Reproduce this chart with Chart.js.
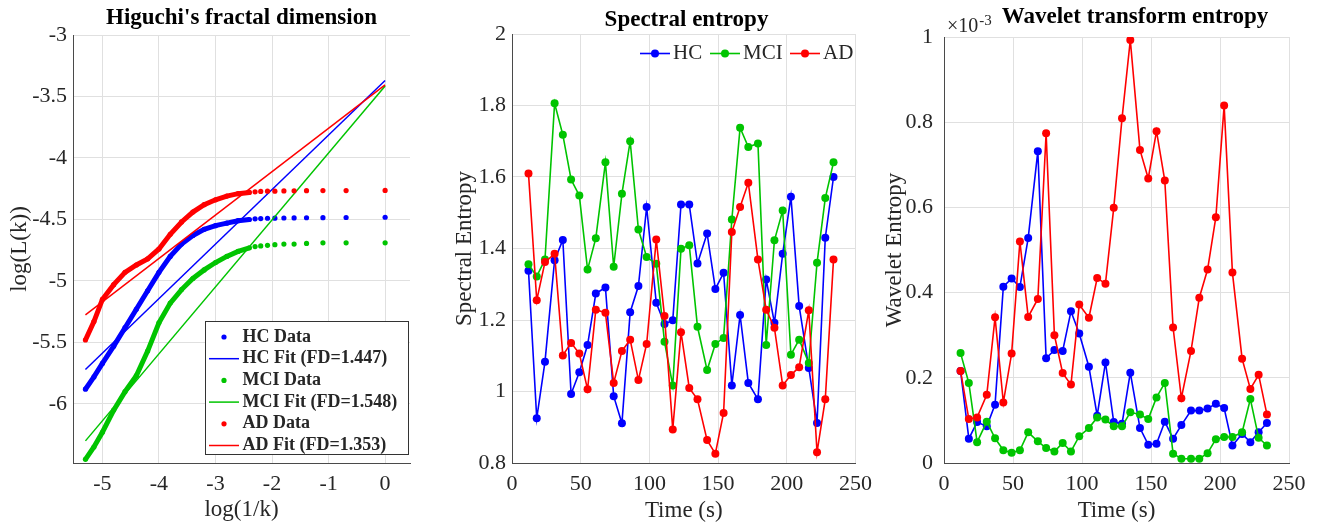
<!DOCTYPE html>
<html>
<head>
<meta charset="utf-8">
<script src="https://cdn.jsdelivr.net/npm/chart.js@4.4.0/dist/chart.umd.min.js"></script>
<style>
  body { margin: 0; background: #fff; width: 1329px; height: 525px; overflow: hidden; position: relative; }
  canvas { position: absolute; top: 0; }
</style>
</head>
<body>
<canvas id="hfd" width="440" height="525" style="left:0"></canvas>
<canvas id="spec" width="440" height="525" style="left:440px"></canvas>
<canvas id="wave" width="449" height="525" style="left:880px"></canvas>
<script>
// ---- Higuchi's fractal dimension: log(1/k) vs log(L(k)) ----
const logInvK = [-5.30, -5.15, -5.00, -4.80, -4.60, -4.40, -4.20, -4.00, -3.80, -3.60, -3.40, -3.20, -3.00, -2.80, -2.60, -2.40,
                 -2.30, -2.20, -2.08, -1.95, -1.79, -1.61, -1.39, -1.10, -0.69, 0];
const hcLogL  = [-5.88, -5.78, -5.67, -5.53, -5.38, -5.23, -5.08, -4.93, -4.80, -4.70, -4.63, -4.58, -4.55, -4.53, -4.51, -4.50,
                 -4.495, -4.493, -4.49, -4.489, -4.488, -4.487, -4.486, -4.485, -4.484, -4.482];
const mciLogL = [-6.45, -6.35, -6.23, -6.05, -5.90, -5.77, -5.57, -5.34, -5.18, -5.07, -4.98, -4.91, -4.85, -4.80, -4.76, -4.73,
                 -4.72, -4.715, -4.71, -4.705, -4.70, -4.70, -4.695, -4.69, -4.69, -4.69];
const adLogL  = [-5.48, -5.33, -5.15, -5.03, -4.93, -4.87, -4.82, -4.74, -4.62, -4.52, -4.44, -4.38, -4.34, -4.31, -4.29, -4.28,
                 -4.275, -4.272, -4.27, -4.27, -4.268, -4.267, -4.266, -4.265, -4.265, -4.264];
const fitX   = [-5.30, 0];
const hcFit  = [-5.72, -3.37];
const mciFit = [-6.30, -3.415];
const adFit  = [-5.275, -3.405];
const hfdXTicks = [-5, -4, -3, -2, -1, 0];
const hfdYTicks = [-6, -5.5, -5, -4.5, -4, -3.5, -3];

// ---- time axis shared by the entropy panels ----
const timeS = [12, 18, 24, 31, 37, 43, 49, 55, 61, 68, 74, 80, 86, 92, 98, 105, 111, 117, 123, 129, 135, 142, 148, 154,
               160, 166, 172, 179, 185, 191, 197, 203, 209, 216, 222, 228, 234];
const timeTicks = [0, 50, 100, 150, 200, 250];

// ---- Spectral entropy ----
const hcSE  = [1.338, 0.925, 1.083, 1.367, 1.424, 0.993, 1.054, 1.130, 1.274, 1.291, 0.987, 0.911, 1.222, 1.295, 1.516, 1.248,
               1.189, 1.199, 1.523, 1.523, 1.358, 1.442, 1.287, 1.332, 1.017, 1.214, 1.024, 0.978, 1.313, 1.192, 1.385, 1.545,
               1.239, 1.066, 0.912, 1.430, 1.600];
const mciSE = [1.356, 1.322, 1.369, 1.806, 1.718, 1.593, 1.548, 1.341, 1.429, 1.641, 1.349, 1.553, 1.700, 1.453, 1.376, 1.357,
               1.139, 1.017, 1.399, 1.409, 1.181, 1.060, 1.133, 1.150, 1.481, 1.738, 1.684, 1.694, 1.130, 1.423, 1.506, 1.103,
               1.145, 1.080, 1.360, 1.541, 1.641];
const adSE  = [1.610, 1.255, 1.362, 1.385, 1.101, 1.136, 1.106, 1.006, 1.229, 1.220, 1.024, 1.113, 1.145, 1.032, 1.133, 1.425,
               1.211, 0.894, 1.166, 1.010, 0.978, 0.864, 0.826, 0.940, 1.446, 1.516, 1.584, 1.369, 1.229, 1.178, 1.017, 1.046,
               1.068, 1.227, 0.830, 0.978, 1.369];
const seTicks = [0.8, 1, 1.2, 1.4, 1.6, 1.8, 2];

// ---- Wavelet entropy (values in units of 1e-3) ----
const hcWE  = [0.216, 0.057, 0.096, 0.086, 0.137, 0.414, 0.433, 0.413, 0.528, 0.732, 0.246, 0.265, 0.263, 0.356, 0.304, 0.226,
               0.111, 0.236, 0.096, 0.092, 0.212, 0.082, 0.043, 0.045, 0.097, 0.057, 0.089, 0.123, 0.123, 0.128, 0.139, 0.129,
               0.041, 0.068, 0.049, 0.072, 0.094];
const mciWE = [0.258, 0.188, 0.049, 0.097, 0.058, 0.030, 0.024, 0.030, 0.072, 0.051, 0.035, 0.027, 0.047, 0.027, 0.063, 0.082,
               0.107, 0.102, 0.086, 0.086, 0.119, 0.114, 0.103, 0.154, 0.188, 0.022, 0.010, 0.010, 0.010, 0.023, 0.056, 0.061,
               0.061, 0.072, 0.150, 0.059, 0.041];
const adWE  = [0.216, 0.103, 0.107, 0.160, 0.342, 0.142, 0.257, 0.520, 0.343, 0.385, 0.774, 0.300, 0.211, 0.184, 0.372, 0.341,
               0.434, 0.421, 0.599, 0.809, 0.993, 0.735, 0.668, 0.779, 0.663, 0.318, 0.152, 0.263, 0.388, 0.454, 0.577, 0.839,
               0.447, 0.245, 0.174, 0.207, 0.114];
const weTicks = [0, 0.2, 0.4, 0.6, 0.8, 1];

const SERIF = '"Liberation Serif", "Times New Roman", serif';
const TXT = '#262626';
const GRID = '#e0e0e0';
const AXIS = '#4a4a4a';
const BLUE = '#0000ff', GREEN = '#00c400', RED = '#ff0000';

function axis(o) {
  return {
    type: 'linear', min: o.min, max: o.max,
    afterBuildTicks: s => { s.ticks = o.ticks.map(v => ({ value: v })); },
    afterFit: s => { if (o.width) s.width = o.width; if (o.height) s.height = o.height; },
    grid: { color: GRID, lineWidth: 1, drawTicks: false },
    border: { color: AXIS, width: 1 },
    ticks: { color: TXT, font: { family: SERIF, size: 22 }, padding: o.pad, autoSkip: false, maxRotation: 0,
             callback: v => String(+Number(v).toFixed(2)) },
    title: { display: true, text: o.title, color: TXT, font: { family: SERIF, size: 23 }, padding: o.titlePad }
  };
}

function titlePlugin(text, x, y) {
  return {
    id: 'panelTitle',
    afterDraw(c) {
      const g = c.ctx;
      g.save();
      g.font = 'bold 23px ' + SERIF;
      g.fillStyle = '#000';
      g.textAlign = 'center';
      g.textBaseline = 'middle';
      g.fillText(text, x, y);
      g.restore();
    }
  };
}

const baseOpts = (pad) => ({
  responsive: false, animation: false, devicePixelRatio: 1,
  layout: { padding: pad },
  plugins: { legend: { display: false }, tooltip: { enabled: false } },
  events: []
});

// ---------- panel 1 ----------
const hfdData = (label, ys, color, order) => ({
  label, order, showLine: true,
  data: logInvK.map((x, i) => ({ x, y: ys[i] })),
  borderColor: color, backgroundColor: color, borderWidth: 5,
  pointRadius: 2.6, pointBorderWidth: 0, pointStyle: 'circle',
  segment: { borderColor: ctx => ctx.p1.parsed.x > -2.35 ? 'rgba(0,0,0,0)' : color }
});
const hfdFit = (label, ys, color, order) => ({
  label, order, showLine: true,
  data: fitX.map((x, i) => ({ x, y: ys[i] })),
  borderColor: color, backgroundColor: color, borderWidth: 1.5, pointRadius: 0, pointStyle: 'line'
});

const hfdLegend = {
  id: 'hfdLegend',
  afterDraw(c) {
    const g = c.ctx;
    g.save();
    g.fillStyle = '#fff';
    g.fillRect(205.5, 321.5, 203, 133);
    g.strokeStyle = '#333';
    g.lineWidth = 1;
    g.strokeRect(205.5, 321.5, 203, 133);
    g.font = 'bold 18px ' + SERIF;
    g.textBaseline = 'middle';
    c.data.datasets.forEach((ds, i) => {
      const y = 337 + i * 21.7;
      g.fillStyle = ds.borderColor;
      g.strokeStyle = ds.borderColor;
      if (ds.pointStyle === 'line') {
        g.lineWidth = 1.5;
        g.beginPath(); g.moveTo(209, y); g.lineTo(239, y); g.stroke();
      } else {
        g.beginPath(); g.arc(224, y, 2.6, 0, Math.PI * 2); g.fill();
      }
      g.fillStyle = TXT;
      g.fillText(ds.label, 242.5, y);
    });
    g.restore();
  }
};

new Chart(document.getElementById('hfd'), {
  type: 'scatter',
  data: {
    datasets: [
      hfdData('HC Data', hcLogL, BLUE, 6),
      hfdFit('HC Fit (FD=1.447)', hcFit, BLUE, 5),
      hfdData('MCI Data', mciLogL, GREEN, 4),
      hfdFit('MCI Fit (FD=1.548)', mciFit, GREEN, 3),
      hfdData('AD Data', adLogL, RED, 2),
      hfdFit('AD Fit (FD=1.353)', adFit, RED, 1)
    ]
  },
  options: Object.assign(baseOpts({ left: 0, right: 30, top: 35, bottom: 0 }), {
    scales: {
      x: axis({ min: -5.52, max: 0.44, ticks: hfdXTicks, height: 62, pad: 8, title: 'log(1/k)', titlePad: { bottom: 1 } }),
      y: axis({ min: -6.48, max: -3, ticks: hfdYTicks, width: 73, pad: 6, title: 'log(L(k))', titlePad: { top: 6 } })
    }
  }),
  plugins: [titlePlugin("Higuchi's fractal dimension", 241.5, 18), hfdLegend]
});

// ---------- entropy panels ----------
const lineSet = (label, ys, color, order) => ({
  label, order, showLine: true,
  data: timeS.map((t, i) => ({ x: t, y: ys[i] })),
  borderColor: color, backgroundColor: color, borderWidth: 1.6,
  pointRadius: 4, pointBorderWidth: 0
});

const specLegend = {
  id: 'specLegend',
  afterDraw(c) {
    const g = c.ctx;
    const xs = [200, 270, 350];
    g.save();
    g.font = '21px ' + SERIF;
    g.textBaseline = 'middle';
    c.data.datasets.forEach((ds, i) => {
      const x0 = xs[i], y = 53.5;
      g.strokeStyle = ds.borderColor;
      g.fillStyle = ds.borderColor;
      g.lineWidth = 1.6;
      g.beginPath(); g.moveTo(x0, y); g.lineTo(x0 + 30, y); g.stroke();
      g.beginPath(); g.arc(x0 + 15, y, 4, 0, Math.PI * 2); g.fill();
      g.fillStyle = TXT;
      g.fillText(ds.label, x0 + 33, y);
    });
    g.restore();
  }
};

new Chart(document.getElementById('spec'), {
  type: 'scatter',
  data: {
    datasets: [
      lineSet('HC', hcSE, BLUE, 3),
      lineSet('MCI', mciSE, GREEN, 2),
      lineSet('AD', adSE, RED, 1)
    ]
  },
  options: Object.assign(baseOpts({ left: 0, right: 18, top: 34, bottom: 0 }), {
    scales: {
      x: axis({ min: 0, max: 250, ticks: timeTicks, height: 62, pad: 8, title: 'Time (s)', titlePad: { bottom: 0 } }),
      y: axis({ min: 0.8, max: 2, ticks: seTicks, width: 72, pad: 6, title: 'Spectral Entropy', titlePad: { top: 11 } })
    }
  }),
  plugins: [titlePlugin('Spectral entropy', 246.5, 20), specLegend]
});

const expLabel = {
  id: 'expLabel',
  afterDraw(c) {
    const g = c.ctx;
    g.save();
    g.fillStyle = TXT;
    g.textBaseline = 'alphabetic';
    g.font = '20px ' + SERIF;
    g.fillText('\u00d710', 67, 32);
    const w = g.measureText('\u00d710').width;
    g.font = '15px ' + SERIF;
    g.fillText('-3', 67 + w + 1, 25);
    g.restore();
  }
};

new Chart(document.getElementById('wave'), {
  type: 'scatter',
  data: {
    datasets: [
      lineSet('HC', hcWE, BLUE, 3),
      lineSet('MCI', mciWE, GREEN, 2),
      lineSet('AD', adWE, RED, 1)
    ]
  },
  options: Object.assign(baseOpts({ left: 0, right: 40, top: 37, bottom: 0 }), {
    scales: {
      x: axis({ min: 0, max: 250, ticks: timeTicks, height: 62, pad: 8, title: 'Time (s)', titlePad: { bottom: 0 } }),
      y: axis({ min: 0, max: 1, ticks: weTicks, width: 64, pad: 11, title: 'Wavelet Entropy', titlePad: { top: 1 } })
    }
  }),
  plugins: [titlePlugin('Wavelet transform entropy', 255, 17.5), expLabel]
});
</script>
</body>
</html>
